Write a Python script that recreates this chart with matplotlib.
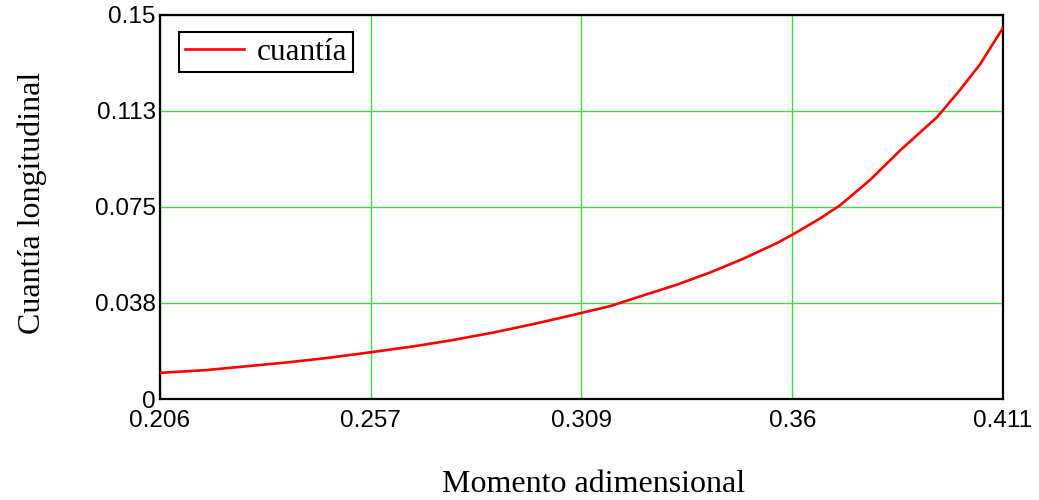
import matplotlib
matplotlib.use("Agg")
import matplotlib.pyplot as plt

# Moment (dimensionless) vs. longitudinal reinforcement ratio
momento = [0.2060, 0.2174, 0.2279, 0.2371, 0.2466, 0.2571, 0.2675, 0.2765,
           0.2870, 0.2967, 0.3033, 0.3154, 0.3235, 0.3317, 0.3397, 0.3478,
           0.3560, 0.3599, 0.3665, 0.3714, 0.3787, 0.3860, 0.3950, 0.4005,
           0.4054, 0.4110]
cuantia = [0.0102, 0.0113, 0.0129, 0.0143, 0.0160, 0.0182, 0.0205, 0.0228,
           0.0259, 0.0292, 0.0316, 0.0362, 0.0404, 0.0446, 0.0493, 0.0547,
           0.0608, 0.0642, 0.0704, 0.0756, 0.0855, 0.0970, 0.1100, 0.1205,
           0.1305, 0.1448]

x_ticks = [0.206, 0.25725, 0.3085, 0.35975, 0.411]
x_tick_labels = ["0.206", "0.257", "0.309", "0.36", "0.411"]
y_ticks = [0, 0.0375, 0.075, 0.1125, 0.15]
y_tick_labels = ["0", "0.038", "0.075", "0.113", "0.15"]

serif = "Liberation Serif"
sans = "Liberation Sans"

fig = plt.figure(figsize=(10.39, 5.0), dpi=100)
ax = fig.add_axes([160 / 1039, 1 - 399 / 500, (1003 - 160) / 1039, (399 - 14.5) / 500])

ax.plot(momento, cuantia, color="#ff0000", lw=1.9, label="cuantía", zorder=3)

ax.set_xlim(0.206, 0.411)
ax.set_ylim(0, 0.15)
ax.set_xticks(x_ticks)
ax.set_xticklabels(x_tick_labels, fontname=sans, fontsize=17.5)
ax.set_yticks(y_ticks)
ax.set_yticklabels(y_tick_labels, fontname=sans, fontsize=17.5)
ax.tick_params(length=0)
ax.tick_params(axis="x", pad=8)
ax.tick_params(axis="y", pad=3)

ax.grid(True, color="#3ce03c", lw=1.0)
ax.set_axisbelow(True)
for s in ax.spines.values():
    s.set_color("black")
    s.set_linewidth(1.6)

ax.set_xlabel("Momento adimensional", fontname=serif, fontsize=23)
ax.set_ylabel("Cuantía longitudinal", fontname=serif, fontsize=23)
ax.xaxis.label.set_va("center")
ax.yaxis.label.set_va("center")
ax.xaxis.set_label_coords(0.514, -0.222)
ax.yaxis.set_label_coords(-0.151, 0.51)

leg = ax.legend(loc="upper left", bbox_to_anchor=(0.0225, 0.9545), prop={"family": serif, "size": 22.5},
                fancybox=False, framealpha=1, edgecolor="black", handlelength=1.9,
                borderpad=0.18, handletextpad=0.4, borderaxespad=0)
leg.get_frame().set_linewidth(1.5)

fig.savefig("out.png", dpi=100)
